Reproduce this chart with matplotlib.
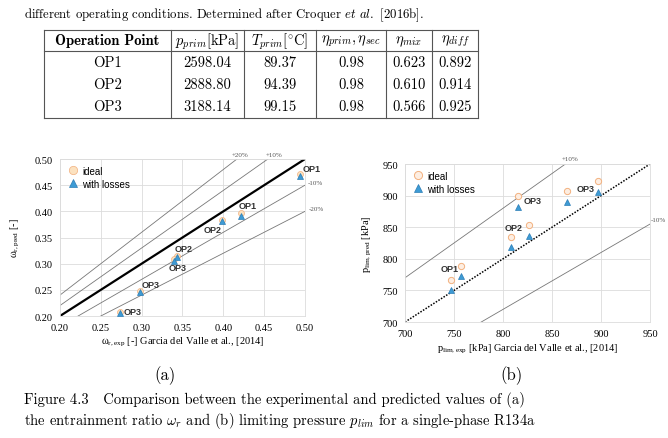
import matplotlib
matplotlib.use("Agg")
import matplotlib.pyplot as plt
from matplotlib.ticker import MultipleLocator, FormatStrFormatter

# table values (Croquer et al. 2016b)
op_names = ["OP1", "OP2", "OP3"]
p_prim = ["2598.04", "2888.80", "3188.14"]
t_prim = ["89.37", "94.39", "99.15"]
eta_prim_sec = ["0.98", "0.98", "0.98"]
eta_mix = ["0.623", "0.610", "0.566"]
eta_diff = ["0.892", "0.914", "0.925"]

# (a) entrainment ratio
w_exp = [0.494, 0.422, 0.398, 0.343, 0.339, 0.298, 0.273]
w_ideal = [0.472, 0.396, 0.384, 0.315, 0.309, 0.248, 0.208]
w_loss = [0.468, 0.392, 0.381, 0.312, 0.306, 0.245, 0.206]
w_labels = ["OP1", "OP1", "OP2", "OP2", "OP3", "OP3", "OP3"]

# (b) limiting pressure [kPa]
p_exp = [747, 757, 808, 826.5, 815.5, 865, 896.5]
p_ideal = [767, 789, 834, 853.5, 899, 908, 922.5]
p_loss = [750.5, 773, 818, 835.5, 881.5, 889.5, 906]
p_label_idx = [1, 2, 4, 6]
p_labels = ["OP1", "OP2", "OP3", "OP3"]

deviations = [0.2, 0.1, -0.1, -0.2]

plt.rcParams["mathtext.fontset"] = "cm"
SERIF = "Liberation Serif"
SANS = "Liberation Sans"
CIRC_FACE = "#FCE2C0"
CIRC_EDGE = "#F2B07E"
TRI = "#3D9BD5"
TRI_EDGE = "#2C7DB5"

fig = plt.figure(figsize=(6.68, 4.39), dpi=100)

# page overlay in pixel coords (table + captions)
ov = fig.add_axes([0, 0, 1, 1])
ov.set_xlim(0, 668)
ov.set_ylim(439, 0)
ov.axis("off")

ov.text(24, 15, r"different operating conditions. Determined after Croquer $\mathit{et\ al.}$ [2016b].",
        family="cmr10", fontsize=9.2, va="center")

col_x = [44, 171, 244, 316, 386, 432, 478]
row_y = [41.5, 62.7, 85, 107.3]
for x in col_x:
    ov.plot([x, x], [31, 119], color="#555555", lw=0.8)
for y in [31, 52, 119]:
    ov.plot([col_x[0], col_x[-1]], [y, y], color="#555555", lw=0.8)

headers = ["Operation Point", r"$p_{prim}$[kPa]", r"$T_{prim}$[$^{\circ}$C]",
           r"$\eta_{prim}, \eta_{sec}$", r"$\eta_{mix}$", r"$\eta_{diff}$"]
for i, h in enumerate(headers):
    cx = (col_x[i] + col_x[i + 1]) / 2
    ov.text(cx, row_y[0], h, family="cmb10" if i == 0 else "cmr10",
            fontsize=10.5, ha="center", va="center")
columns = [op_names, p_prim, t_prim, eta_prim_sec, eta_mix, eta_diff]
for i, col in enumerate(columns):
    cx = (col_x[i] + col_x[i + 1]) / 2
    for j, val in enumerate(col):
        ov.text(cx, row_y[j + 1], val, family="cmr10", fontsize=10.5,
                ha="center", va="center")

ov.text(165, 376, "(a)", family="cmr10", fontsize=12, ha="center", va="center")
ov.text(511, 376, "(b)", family="cmr10", fontsize=12, ha="center", va="center")
ov.text(24, 400, "Figure 4.3   Comparison between the experimental and predicted values of (a)",
        family="cmr10", fontsize=10.5, va="center")
ov.text(24, 421, r"the entrainment ratio $\omega_r$ and (b) limiting pressure $p_{lim}$ for a single-phase R134a",
        family="cmr10", fontsize=10.5, va="center")
ov.text(666, 221, "-10%", fontsize=5, family=SERIF, color="#555555", ha="right",
        va="center")


def style_axes(ax, lo, hi, step, fmt):
    ax.set_xlim(lo, hi)
    ax.set_ylim(lo, hi)
    ax.xaxis.set_major_locator(MultipleLocator(step))
    ax.yaxis.set_major_locator(MultipleLocator(step))
    ax.xaxis.set_major_formatter(FormatStrFormatter(fmt))
    ax.yaxis.set_major_formatter(FormatStrFormatter(fmt))
    ax.grid(True, color="#dcdcdc", lw=0.6)
    ax.set_axisbelow(True)
    ax.tick_params(length=0, labelsize=7.5, pad=5)
    for lab in ax.get_xticklabels() + ax.get_yticklabels():
        lab.set_family(SERIF)
    for s in ax.spines.values():
        s.set_color("#dcdcdc")
        s.set_linewidth(0.6)


# ---- (a) ----
axa = fig.add_axes([0.0898, 0.2779, 0.3668, 0.3576])
style_axes(axa, 0.2, 0.5, 0.05, "%.2f")
xs = [0.2, 0.5]
axa.plot(xs, xs, color="black", lw=1.6, zorder=2)
for d in deviations:
    axa.plot(xs, [x * (1 + d) for x in xs], color="#777777", lw=0.6, zorder=2)
axa.plot(w_exp, w_ideal, "o", ms=4.3, mfc=CIRC_FACE, mec=CIRC_EDGE, mew=0.5,
         label="ideal", zorder=3)
axa.plot(w_exp, w_loss, "^", ms=4.6, mfc=TRI, mec=TRI_EDGE, mew=0.5,
         label="with losses", zorder=4)
a_offsets = [(12, 7), (6, 10), (-9, -8), (7, 9), (4, -7), (11, 8), (13, 1)]
for x, y, t, off in zip(w_exp, w_loss, w_labels, a_offsets):
    axa.annotate(t, (x, y), xytext=off, textcoords="offset pixels", ha="center",
                 va="center", fontsize=6.5, family=SANS, fontweight="bold",
                 color="#333333", annotation_clip=False)
for txt, (x, y) in zip(["+20%", "+10%", "-10%", "-20%"],
                       [(0.421, 0.508), (0.462, 0.508), (0.513, 0.456), (0.514, 0.405)]):
    axa.text(x, y, txt, fontsize=5, family=SERIF, color="#555555", ha="center",
             va="center", clip_on=False)
axa.set_xlabel(r"$\mathregular{\omega_{r,exp}}$ [-] Garcia del Valle et al., [2014]",
               family=SERIF, fontsize=7.5, labelpad=2)
axa.set_ylabel(r"$\mathregular{\omega_{r,pred}}$ [-]", family=SERIF, fontsize=7.5,
               labelpad=9)
axa.legend(loc="upper left", frameon=False, prop={"family": SANS, "size": 7},
           markerscale=1.4, handletextpad=0.4, labelspacing=0.3,
           borderaxespad=0.3, handlelength=1.2)

# ---- (b) ----
axb = fig.add_axes([0.6063, 0.2642, 0.3668, 0.3599])
style_axes(axb, 700, 950, 50, "%d")
xs = [700, 950]
axb.plot(xs, xs, color="black", lw=1.1, ls=(0, (1, 1)), zorder=2)
for d in [0.1, -0.1]:
    axb.plot(xs, [x * (1 + d) for x in xs], color="#777777", lw=0.6, zorder=2)
axb.plot(p_exp, p_ideal, "o", ms=4.5, mfc="#FDEEE2", mec=CIRC_EDGE, mew=0.7,
         label="ideal", zorder=3)
axb.plot(p_exp, p_loss, "^", ms=4.5, mfc=TRI, mec=TRI_EDGE, mew=0.5,
         label="with losses", zorder=4)
b_offsets = [(-11, -3), (3, 10), (14, -4), (-12, -7)]
for i, t, off in zip(p_label_idx, p_labels, b_offsets):
    axb.annotate(t, (p_exp[i], p_ideal[i]), xytext=off, textcoords="offset pixels",
                 ha="center", va="center", fontsize=6.5, family=SANS,
                 fontweight="bold", color="#333333", annotation_clip=False)
axb.text(868, 959, "+10%", fontsize=5, family=SERIF, color="#555555", ha="center",
         va="center", clip_on=False)
axb.set_xlabel(r"$\mathregular{p_{lim,exp}}$ [kPa] Garcia del Valle et al., [2014]",
               family=SERIF, fontsize=7.5, labelpad=3)
axb.set_ylabel(r"$\mathregular{p_{lim,pred}}$ [kPa]", family=SERIF, fontsize=7.5,
               labelpad=6)
axb.legend(loc="upper left", frameon=False, prop={"family": SANS, "size": 7},
           markerscale=1.3, handletextpad=0.4, labelspacing=0.3,
           borderaxespad=0.3, handlelength=1.2)

fig.savefig("out.png", dpi=100)
